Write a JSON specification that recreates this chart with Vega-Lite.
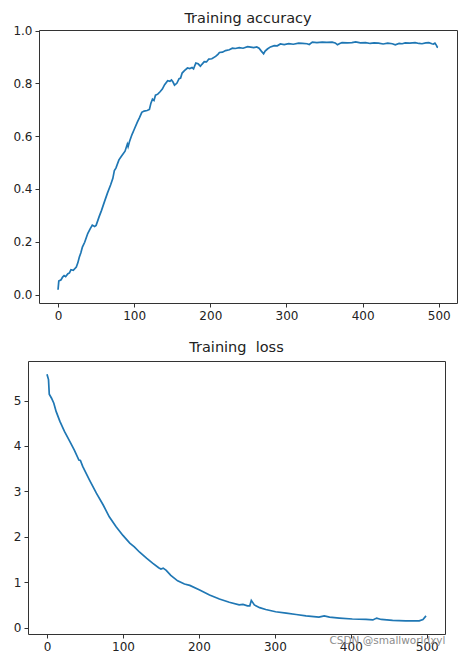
{
  "$schema": "https://vega.github.io/schema/vega-lite/v6.json",
  "background": "white",
  "padding": {"left": 11, "top": 10, "right": 3, "bottom": 0},
  "spacing": 17,
  "config": {
    "font": "DejaVu Sans",
    "view": {"stroke": "#333333", "strokeWidth": 1},
    "axis": {"grid": false, "domain": false, "tickSize": 4, "tickColor": "#333333", "tickWidth": 1, "labelFontSize": 12, "labelColor": "#222222", "labelPadding": 3, "labelFont": "DejaVu Sans"},
    "title": {"fontSize": 14.5, "fontWeight": "normal", "color": "#222222", "offset": 6, "anchor": "middle", "font": "DejaVu Sans"}
  },
  "datasets": {
    "acc": [
      {"epoch": 0, "acc": 0.018}, {"epoch": 1, "acc": 0.051}, {"epoch": 4, "acc": 0.056}, {"epoch": 6, "acc": 0.066}, {"epoch": 8, "acc": 0.072},
      {"epoch": 10, "acc": 0.068}, {"epoch": 13, "acc": 0.079}, {"epoch": 15, "acc": 0.082}, {"epoch": 17, "acc": 0.094}, {"epoch": 20, "acc": 0.092},
      {"epoch": 24, "acc": 0.104}, {"epoch": 26, "acc": 0.12}, {"epoch": 28, "acc": 0.142}, {"epoch": 30, "acc": 0.158}, {"epoch": 32, "acc": 0.18},
      {"epoch": 35, "acc": 0.198}, {"epoch": 39, "acc": 0.231}, {"epoch": 42, "acc": 0.248}, {"epoch": 45, "acc": 0.263}, {"epoch": 48, "acc": 0.258},
      {"epoch": 50, "acc": 0.262}, {"epoch": 54, "acc": 0.295}, {"epoch": 57, "acc": 0.318}, {"epoch": 61, "acc": 0.352}, {"epoch": 65, "acc": 0.385},
      {"epoch": 69, "acc": 0.415}, {"epoch": 72, "acc": 0.44}, {"epoch": 74, "acc": 0.47}, {"epoch": 76, "acc": 0.479}, {"epoch": 80, "acc": 0.51},
      {"epoch": 83, "acc": 0.523}, {"epoch": 88, "acc": 0.543}, {"epoch": 91, "acc": 0.57}, {"epoch": 92, "acc": 0.56}, {"epoch": 94, "acc": 0.581},
      {"epoch": 97, "acc": 0.605}, {"epoch": 100, "acc": 0.625}, {"epoch": 104, "acc": 0.652}, {"epoch": 107, "acc": 0.67}, {"epoch": 110, "acc": 0.69},
      {"epoch": 113, "acc": 0.695}, {"epoch": 117, "acc": 0.697}, {"epoch": 120, "acc": 0.701}, {"epoch": 122, "acc": 0.725}, {"epoch": 124, "acc": 0.74},
      {"epoch": 126, "acc": 0.735}, {"epoch": 128, "acc": 0.755}, {"epoch": 131, "acc": 0.759}, {"epoch": 134, "acc": 0.768}, {"epoch": 137, "acc": 0.778},
      {"epoch": 140, "acc": 0.795}, {"epoch": 144, "acc": 0.81}, {"epoch": 147, "acc": 0.808}, {"epoch": 149, "acc": 0.813}, {"epoch": 151, "acc": 0.805},
      {"epoch": 153, "acc": 0.793}, {"epoch": 156, "acc": 0.8}, {"epoch": 159, "acc": 0.818}, {"epoch": 161, "acc": 0.82}, {"epoch": 163, "acc": 0.839},
      {"epoch": 166, "acc": 0.848}, {"epoch": 170, "acc": 0.858}, {"epoch": 173, "acc": 0.856}, {"epoch": 176, "acc": 0.86}, {"epoch": 178, "acc": 0.855},
      {"epoch": 181, "acc": 0.877}, {"epoch": 184, "acc": 0.874}, {"epoch": 187, "acc": 0.865}, {"epoch": 189, "acc": 0.872}, {"epoch": 192, "acc": 0.882},
      {"epoch": 195, "acc": 0.881}, {"epoch": 198, "acc": 0.892}, {"epoch": 202, "acc": 0.893}, {"epoch": 207, "acc": 0.902}, {"epoch": 210, "acc": 0.91},
      {"epoch": 212, "acc": 0.917}, {"epoch": 216, "acc": 0.918}, {"epoch": 220, "acc": 0.924}, {"epoch": 225, "acc": 0.927}, {"epoch": 229, "acc": 0.933},
      {"epoch": 233, "acc": 0.932}, {"epoch": 238, "acc": 0.935}, {"epoch": 243, "acc": 0.933}, {"epoch": 249, "acc": 0.939}, {"epoch": 253, "acc": 0.937},
      {"epoch": 257, "acc": 0.935}, {"epoch": 261, "acc": 0.938}, {"epoch": 264, "acc": 0.933}, {"epoch": 267, "acc": 0.922}, {"epoch": 270, "acc": 0.912},
      {"epoch": 272, "acc": 0.922}, {"epoch": 275, "acc": 0.93}, {"epoch": 279, "acc": 0.938}, {"epoch": 284, "acc": 0.943}, {"epoch": 288, "acc": 0.942},
      {"epoch": 292, "acc": 0.949}, {"epoch": 297, "acc": 0.947}, {"epoch": 303, "acc": 0.95}, {"epoch": 309, "acc": 0.948}, {"epoch": 316, "acc": 0.952},
      {"epoch": 321, "acc": 0.951}, {"epoch": 327, "acc": 0.95}, {"epoch": 330, "acc": 0.947}, {"epoch": 334, "acc": 0.956}, {"epoch": 340, "acc": 0.954},
      {"epoch": 347, "acc": 0.956}, {"epoch": 353, "acc": 0.955}, {"epoch": 360, "acc": 0.956}, {"epoch": 364, "acc": 0.953}, {"epoch": 367, "acc": 0.946},
      {"epoch": 370, "acc": 0.951}, {"epoch": 373, "acc": 0.954}, {"epoch": 380, "acc": 0.953}, {"epoch": 386, "acc": 0.954}, {"epoch": 391, "acc": 0.957},
      {"epoch": 397, "acc": 0.953}, {"epoch": 404, "acc": 0.954}, {"epoch": 410, "acc": 0.951}, {"epoch": 415, "acc": 0.953}, {"epoch": 421, "acc": 0.952},
      {"epoch": 427, "acc": 0.949}, {"epoch": 433, "acc": 0.952}, {"epoch": 439, "acc": 0.95}, {"epoch": 443, "acc": 0.946}, {"epoch": 448, "acc": 0.951},
      {"epoch": 452, "acc": 0.95}, {"epoch": 456, "acc": 0.953}, {"epoch": 462, "acc": 0.952}, {"epoch": 469, "acc": 0.954}, {"epoch": 474, "acc": 0.951},
      {"epoch": 478, "acc": 0.95}, {"epoch": 483, "acc": 0.953}, {"epoch": 487, "acc": 0.954}, {"epoch": 491, "acc": 0.95}, {"epoch": 493, "acc": 0.949},
      {"epoch": 495, "acc": 0.952}, {"epoch": 497, "acc": 0.944}, {"epoch": 498, "acc": 0.937}, {"epoch": 499, "acc": 0.936}
    ],
    "loss": [
      {"epoch": 0, "loss": 5.58}, {"epoch": 2, "loss": 5.46}, {"epoch": 3, "loss": 5.14}, {"epoch": 6, "loss": 5.05}, {"epoch": 9, "loss": 4.94},
      {"epoch": 12, "loss": 4.76}, {"epoch": 17, "loss": 4.54}, {"epoch": 23, "loss": 4.32}, {"epoch": 30, "loss": 4.1}, {"epoch": 36, "loss": 3.91},
      {"epoch": 42, "loss": 3.69}, {"epoch": 44, "loss": 3.68}, {"epoch": 47, "loss": 3.55}, {"epoch": 56, "loss": 3.25}, {"epoch": 65, "loss": 2.96},
      {"epoch": 74, "loss": 2.7}, {"epoch": 82, "loss": 2.44}, {"epoch": 91, "loss": 2.22}, {"epoch": 100, "loss": 2.03}, {"epoch": 109, "loss": 1.86},
      {"epoch": 115, "loss": 1.78}, {"epoch": 122, "loss": 1.66}, {"epoch": 131, "loss": 1.53}, {"epoch": 139, "loss": 1.42}, {"epoch": 147, "loss": 1.32},
      {"epoch": 150, "loss": 1.29}, {"epoch": 153, "loss": 1.31}, {"epoch": 157, "loss": 1.26}, {"epoch": 163, "loss": 1.15}, {"epoch": 172, "loss": 1.03},
      {"epoch": 181, "loss": 0.96}, {"epoch": 188, "loss": 0.93}, {"epoch": 201, "loss": 0.83}, {"epoch": 214, "loss": 0.72}, {"epoch": 227, "loss": 0.63},
      {"epoch": 240, "loss": 0.56}, {"epoch": 253, "loss": 0.5}, {"epoch": 258, "loss": 0.51}, {"epoch": 264, "loss": 0.48}, {"epoch": 267, "loss": 0.48},
      {"epoch": 269, "loss": 0.6}, {"epoch": 273, "loss": 0.5}, {"epoch": 280, "loss": 0.44}, {"epoch": 288, "loss": 0.4}, {"epoch": 301, "loss": 0.35},
      {"epoch": 315, "loss": 0.32}, {"epoch": 328, "loss": 0.29}, {"epoch": 341, "loss": 0.26}, {"epoch": 358, "loss": 0.23}, {"epoch": 365, "loss": 0.26},
      {"epoch": 372, "loss": 0.23}, {"epoch": 385, "loss": 0.21}, {"epoch": 402, "loss": 0.19}, {"epoch": 420, "loss": 0.18}, {"epoch": 429, "loss": 0.17},
      {"epoch": 434, "loss": 0.21}, {"epoch": 440, "loss": 0.18}, {"epoch": 455, "loss": 0.16}, {"epoch": 472, "loss": 0.15}, {"epoch": 490, "loss": 0.15},
      {"epoch": 495, "loss": 0.18}, {"epoch": 499, "loss": 0.26}
    ],
    "empty": []
  },
  "vconcat": [
    {
      "spacing": 0,
      "hconcat": [
        {"width": 1, "height": 1, "data": {"name": "empty"}, "mark": "point", "view": {"stroke": null}},
        {
          "width": 418,
          "height": 273,
          "title": {"text": "Training accuracy", "offset": -2},
          "data": {"name": "acc"},
          "mark": {"type": "line", "color": "#1f77b4", "strokeWidth": 1.7},
          "encoding": {
            "x": {"field": "epoch", "type": "quantitative", "scale": {"domain": [-25, 524], "nice": false, "zero": false}, "axis": {"values": [0, 100, 200, 300, 400, 500], "title": null}},
            "y": {"field": "acc", "type": "quantitative", "scale": {"domain": [-0.032, 1.002], "nice": false, "zero": false}, "axis": {"values": [0, 0.2, 0.4, 0.6, 0.8, 1.0], "format": ".1f", "title": null}}
          }
        }
      ]
    },
    {
      "spacing": 0,
      "title": {"text": "CSDN @smallworldxyl", "orient": "bottom", "anchor": "end", "offset": -17, "fontSize": 10.5, "color": "#8c8c8c"},
      "hconcat": [
        {"width": 1, "height": 1, "data": {"name": "empty"}, "mark": "point", "view": {"stroke": null}},
        {
          "width": 417,
          "height": 273,
          "title": {"text": "Training\u00a0 loss", "offset": 6},
          "data": {"name": "loss"},
          "mark": {"type": "line", "color": "#1f77b4", "strokeWidth": 1.7},
          "encoding": {
            "x": {"field": "epoch", "type": "quantitative", "scale": {"domain": [-25, 524], "nice": false, "zero": false}, "axis": {"values": [0, 100, 200, 300, 400, 500], "title": null}},
            "y": {"field": "loss", "type": "quantitative", "scale": {"domain": [-0.14, 5.87], "nice": false, "zero": false}, "axis": {"values": [0, 1, 2, 3, 4, 5], "title": null}}
          }
        }
      ]
    }
  ]
}
